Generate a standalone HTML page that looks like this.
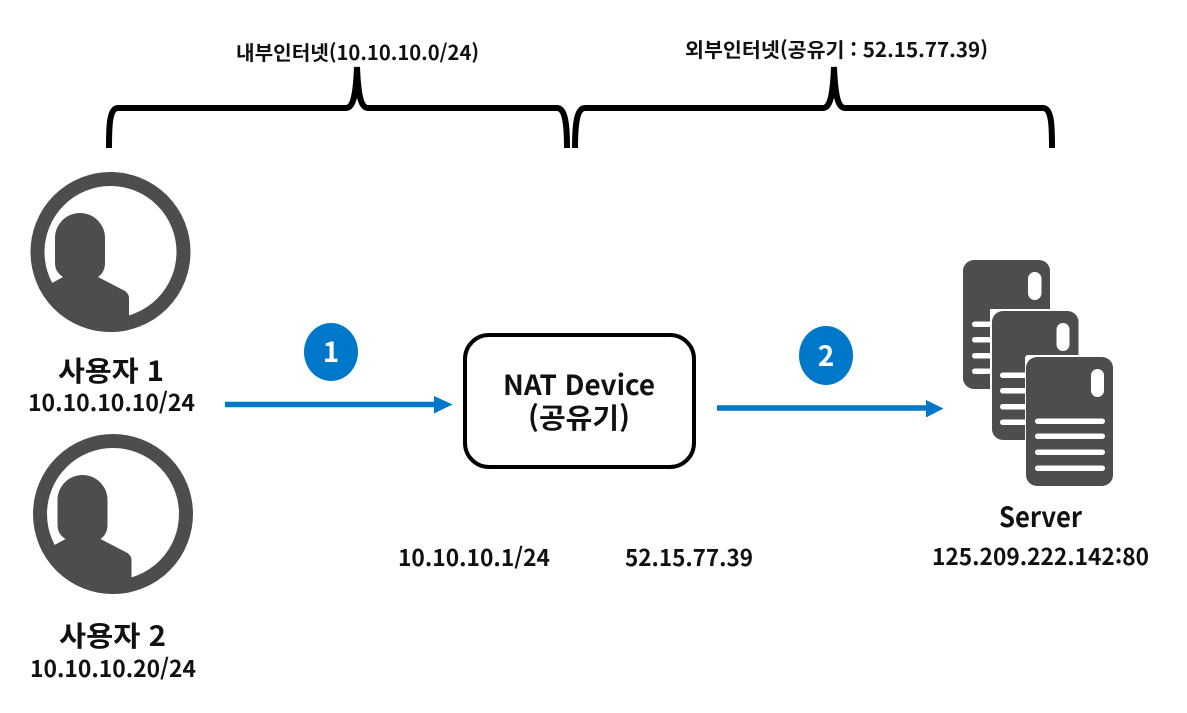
<!DOCTYPE html>
<html lang="ko">
<head>
<meta charset="utf-8">
<title>NAT Diagram</title>
<style>
html,body{margin:0;padding:0;background:#fff;width:1187px;height:713px;overflow:hidden}
svg{display:block}
text{font-family:"Liberation Sans","Noto Sans CJK KR",sans-serif;fill:#111}
.k{font-family:"Noto Sans CJK KR","Liberation Sans",sans-serif;font-weight:700}
</style>
</head>
<body>
<svg width="1187" height="713" viewBox="0 0 1187 713" xmlns="http://www.w3.org/2000/svg">
<defs>
  <clipPath id="c1"><circle cx="110.5" cy="252" r="80"/></clipPath>
  <clipPath id="c2"><circle cx="113" cy="514" r="80"/></clipPath>
</defs>

<!-- Braces -->
<g fill="none" stroke="#000" stroke-width="6">
  <path d="M109 148 C109 128 109 108 118 108 L346 108 C354 108 356 92 357 67 C358 92 360 108 368 108 L557 108 C566 108 567 128 567 148"/>
  <path d="M575 148 C575 128 576 108 585 108 L823 108 C831 108 833 92 834 67 C835 92 837 108 845 108 L1043 108 C1052 108 1052 128 1052 148"/>
</g>
<text class="k" x="236" y="60" font-size="20" textLength="243" lengthAdjust="spacingAndGlyphs">내부인터넷(10.10.10.0/24)</text>
<text class="k" x="685" y="57" font-size="20" textLength="303" lengthAdjust="spacingAndGlyphs">외부인터넷(공유기 : 52.15.77.39)</text>

<!-- Person 1 -->
<circle cx="110.500" cy="252" r="73" fill="#fff" stroke="#4d4d4f" stroke-width="14"/>
<path d="M55 238 a25 25 0 0 1 50 0 V263 Q105 272 98 277 L63 277 Q55 272 55 263 Z" fill="#4d4d4f"/>
<path clip-path="url(#c1)" d="M52 283 L63 277 L98 277 L125 291 Q129 294 129 298 L129 316 L129 340 L20 340 L20 283 Z" fill="#4d4d4f"/>
<!-- Person 2 -->
<circle cx="113" cy="514" r="73" fill="#fff" stroke="#4d4d4f" stroke-width="14"/>
<path d="M57.500 500 a25 25 0 0 1 50 0 V525 Q107.500 534 100.500 539 L65.500 539 Q57.500 534 57.500 525 Z" fill="#4d4d4f"/>
<path clip-path="url(#c2)" d="M54.500 545 L65.500 539 L100.500 539 L127.500 553 Q131.500 556 131.500 560 L131.500 578 L131.500 602 L22 602 L22 545 Z" fill="#4d4d4f"/>

<text class="k" x="58" y="381" font-size="28" textLength="106" lengthAdjust="spacingAndGlyphs">사용자 1</text>
<text class="k" x="28" y="411" font-size="23" textLength="167" lengthAdjust="spacingAndGlyphs">10.10.10.10/24</text>
<text class="k" x="59" y="646" font-size="28" textLength="107" lengthAdjust="spacingAndGlyphs">사용자 2</text>
<text class="k" x="30" y="677" font-size="23" textLength="166" lengthAdjust="spacingAndGlyphs">10.10.10.20/24</text>

<!-- Arrow 1 -->
<line x1="225" y1="404.500" x2="436" y2="404.500" stroke="#0078c9" stroke-width="5.500"/>
<polygon points="434,396 452.500,404.500 434,413.500" fill="#0078c9"/>
<ellipse cx="331" cy="352" rx="27" ry="29" fill="#0078c9"/>
<text class="k" x="331" y="362" font-size="28" text-anchor="middle" style="fill:#fff">1</text>

<!-- NAT box -->
<rect x="465" y="335" width="229" height="132" rx="24" fill="#fff" stroke="#000" stroke-width="4"/>
<text class="k" x="503" y="395" font-size="28" textLength="152" lengthAdjust="spacingAndGlyphs">NAT Device</text>
<text class="k" x="528" y="428" font-size="28" textLength="102" lengthAdjust="spacingAndGlyphs">(공유기)</text>

<!-- Arrow 2 -->
<line x1="717" y1="408" x2="928" y2="408" stroke="#0078c9" stroke-width="5.500"/>
<polygon points="926,400 943.500,408.500 926,417.500" fill="#0078c9"/>
<ellipse cx="826" cy="355.500" rx="27" ry="29.500" fill="#0078c9"/>
<text class="k" x="826" y="366" font-size="28" text-anchor="middle" style="fill:#fff">2</text>

<!-- Servers -->
<g>
  <rect x="963" y="260" width="87" height="129" rx="11" fill="#4d4d4f"/>
  <rect x="1028" y="272" width="13.500" height="28" rx="6.700" fill="#fff"/>
  <g fill="#fff">
    <rect x="972" y="321.500" width="60" height="5.500" rx="2.700"/>
    <rect x="972" y="337" width="60" height="5.500" rx="2.700"/>
    <rect x="972" y="353" width="60" height="5.500" rx="2.700"/>
    <rect x="972" y="368.500" width="60" height="5.500" rx="2.700"/>
  </g>
  <path d="M990 309 H1060 V319 H1000 V440 H990 Z" fill="#fff"/>
  <rect x="992" y="311" width="86.500" height="129" rx="11" fill="#4d4d4f"/>
  <rect x="1056.500" y="323" width="13" height="28" rx="6.500" fill="#fff"/>
  <g fill="#fff">
    <rect x="1000" y="372.500" width="60" height="5.500" rx="2.700"/>
    <rect x="1000" y="388" width="60" height="5.500" rx="2.700"/>
    <rect x="1000" y="404" width="60" height="5.500" rx="2.700"/>
    <rect x="1000" y="419.500" width="60" height="5.500" rx="2.700"/>
  </g>
  <rect x="1025" y="355" width="90" height="133" rx="3" fill="#fff"/>
  <rect x="1026" y="357" width="87" height="129" rx="11" fill="#4d4d4f"/>
  <rect x="1091" y="369" width="13" height="28" rx="6.500" fill="#fff"/>
  <g fill="#fff">
    <rect x="1035" y="418.500" width="70" height="5.500" rx="2.700"/>
    <rect x="1035" y="433.500" width="70" height="5.500" rx="2.700"/>
    <rect x="1035" y="449.500" width="70" height="5.500" rx="2.700"/>
    <rect x="1035" y="465.500" width="70" height="5.500" rx="2.700"/>
  </g>
</g>

<text class="k" x="999" y="527" font-size="28" textLength="83" lengthAdjust="spacingAndGlyphs">Server</text>
<text class="k" x="932" y="565" font-size="23" textLength="217" lengthAdjust="spacingAndGlyphs">125.209.222.142:80</text>
<text class="k" x="398" y="566" font-size="23" textLength="152" lengthAdjust="spacingAndGlyphs">10.10.10.1/24</text>
<text class="k" x="625" y="566" font-size="23" textLength="128" lengthAdjust="spacingAndGlyphs">52.15.77.39</text>
</svg>
</body>
</html>
